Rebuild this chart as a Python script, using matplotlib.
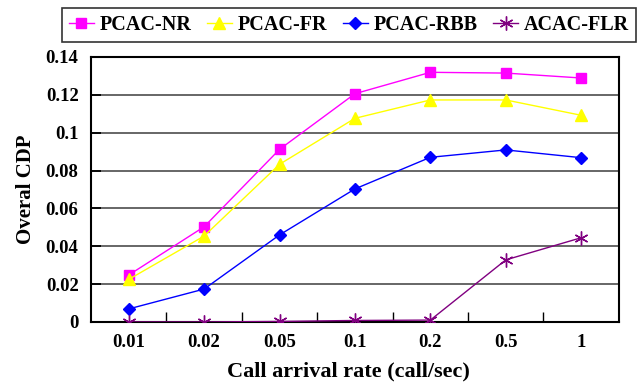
import matplotlib
matplotlib.use("Agg")
import matplotlib.pyplot as plt
import numpy as np

categories = ["0.01", "0.02", "0.05", "0.1", "0.2", "0.5", "1"]
pcac_nr = [0.0248, 0.0503, 0.0912, 0.1206, 0.1319, 0.1315, 0.1289]
pcac_fr = [0.0225, 0.0454, 0.0833, 0.1076, 0.1173, 0.1173, 0.1092]
pcac_rbb = [0.0069, 0.0174, 0.0460, 0.0703, 0.0870, 0.0909, 0.0868]
acac_flr = [0.0, 0.0, 0.0003, 0.0008, 0.0010, 0.0328, 0.0445]
yticks = [0, 0.02, 0.04, 0.06, 0.08, 0.1, 0.12, 0.14]

plt.rcParams['font.family'] = ['Liberation Serif', 'DejaVu Serif']
plt.rcParams['font.weight'] = 'bold'

fig = plt.figure(figsize=(6.4, 3.84), dpi=100)
ax = fig.add_axes([0.1422, 0.1615, 0.967 - 0.1422, 0.8516 - 0.1615])

x = np.arange(len(categories))
for yv in yticks[1:-1]:
    ax.axhline(yv, color='#5a5a5a', lw=1.3, zorder=1)

l1, = ax.plot(x, pcac_nr, color='#ff00ff', marker='s', ms=7.4, lw=1, label='PCAC-NR', zorder=3)
l2, = ax.plot(x, pcac_fr, color='#ffff00', marker='^', ms=8.5, lw=1, label='PCAC-FR', zorder=3)
l3, = ax.plot(x, pcac_rbb, color='#0000ff', marker='D', ms=6.5, lw=1, label='PCAC-RBB', zorder=3)
l4, = ax.plot(x, acac_flr, color='#800080', marker=(6, 2, 0), ms=10, mew=1, lw=1, label='ACAC-FLR', zorder=4)

ax.set_xlim(-0.5, len(categories) - 0.5)
ax.set_ylim(0, 0.14)
ax.set_xticks(x)
ax.set_xticklabels(categories, fontsize=13.5, fontweight='bold')
ax.tick_params(axis='x', which='major', length=0, pad=9)
ax.set_xticks(np.arange(0.5, len(categories) - 0.5, 1), minor=True)
ax.tick_params(axis='x', which='minor', direction='in', length=7, width=1, color='black')
ax.set_yticks(yticks)
ax.set_yticklabels(['%g' % v for v in yticks], fontsize=13.5, fontweight='bold')
ax.tick_params(axis='y', direction='in', length=7, width=1.3, color='black', pad=9)

for s in ax.spines.values():
    s.set_linewidth(1.5)
    s.set_color('black')

ax.set_xlabel('Call arrival rate (call/sec)', fontsize=16, fontweight='bold', labelpad=6)
ax.xaxis.set_label_coords(0.487, -0.15)
ax.set_ylabel('Overal CDP', fontsize=15, fontweight='bold', labelpad=7)

leg = fig.legend(handles=[l1, l2, l3, l4], loc='center',
                 bbox_to_anchor=(349 / 640, 1 - 25 / 384),
                 ncol=4, frameon=True, fancybox=False, edgecolor='black',
                 prop={'family': 'Liberation Serif', 'weight': 'bold', 'size': 14.5},
                 handlelength=1.25, handletextpad=0.3, borderaxespad=0,
                 columnspacing=0.75, borderpad=0.35)
leg.get_frame().set_linewidth(1.2)

fig.savefig('out.png', dpi=100)
